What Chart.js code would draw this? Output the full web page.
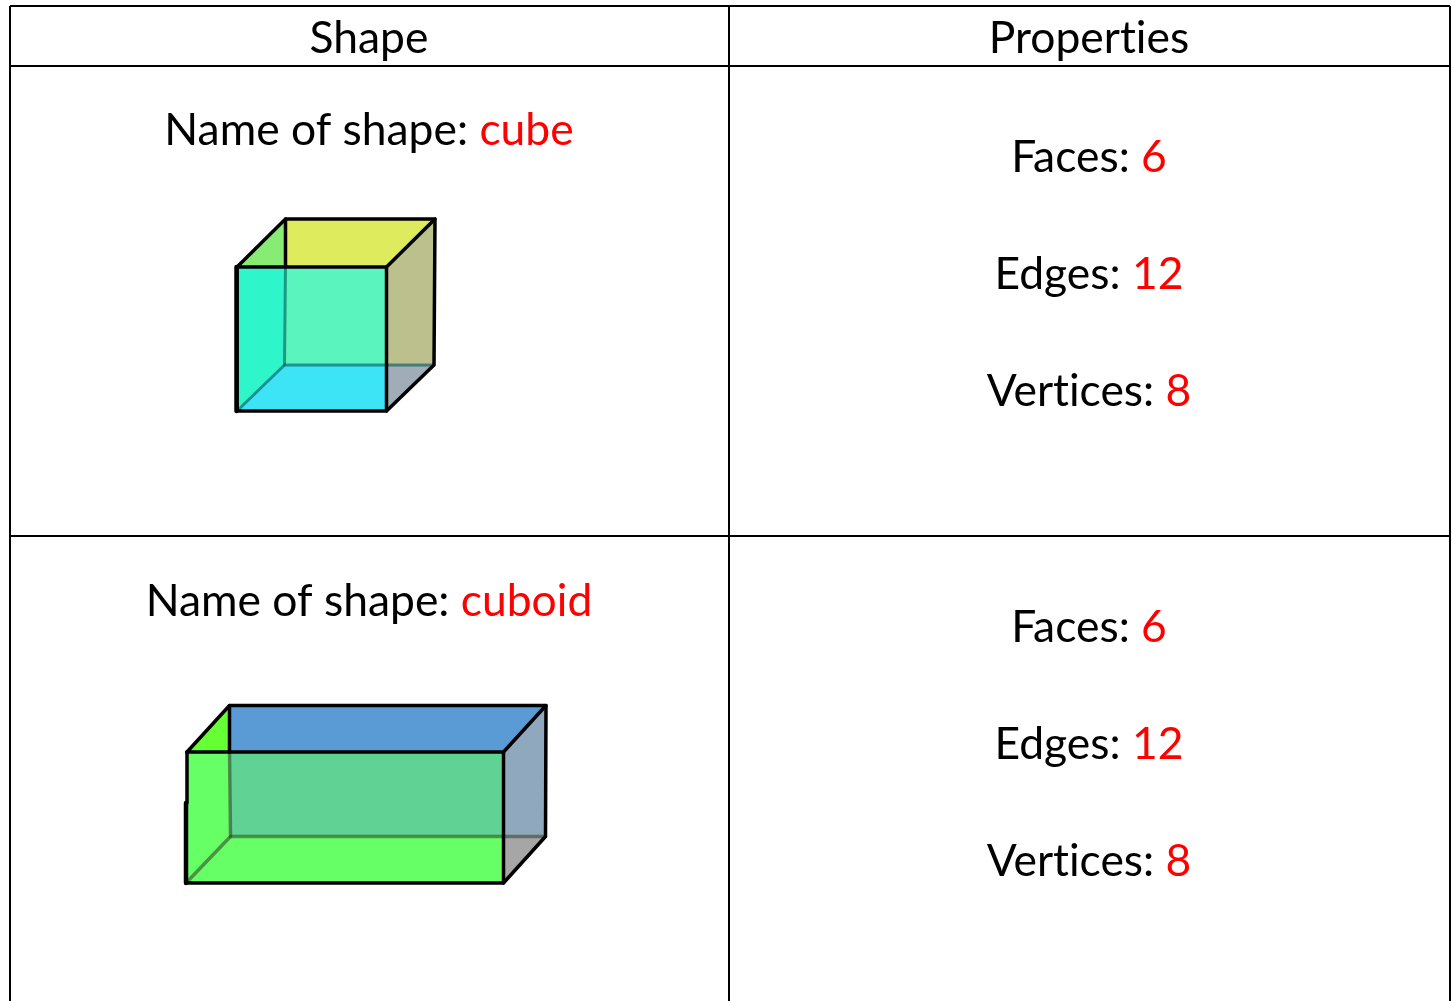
<!DOCTYPE html>
<html>
<head>
<meta charset="utf-8">
<title>Shape properties</title>
<script src="https://cdn.jsdelivr.net/npm/chart.js@4"></script>
<style>
  html, body { margin: 0; padding: 0; background: #fff; overflow: hidden; }
  canvas { display: block; }
</style>
</head>
<body>
<canvas id="myChart" width="1452" height="1001"></canvas>
<script>
// table text: [black part, red part]
const headers = [['Shape', ''], ['Properties', '']];
const shapeNames = [['Name of shape: ', 'cube'], ['Name of shape: ', 'cuboid']];
const faces = [['Faces: ', '6'], ['Faces: ', '6']];
const edges = [['Edges: ', '12'], ['Edges: ', '12']];
const vertices = [['Vertices: ', '8'], ['Vertices: ', '8']];

// table rules, in picture units
const tableV = [10, 729, 1450];
const tableH = [6, 66, 536];
const tableBottom = 1001;

// cube regions
const cubeTopLeft = [[237, 267], [285.5, 219], [285.5, 267]];
const cubeTop = [[285.5, 219], [435, 219], [386.5, 267], [285.5, 267]];
const cubeBand = [[237, 267], [285.5, 267], [284.5, 365], [237, 411]];
const cubeCentre = [[285.5, 267], [386.5, 267], [386.5, 365], [284.5, 365]];
const cubeFloor = [[284.5, 365], [386.5, 365], [386.5, 411], [237, 411]];
const cubeRight = [[386.5, 267], [435, 219], [434, 365], [386.5, 365]];
const cubeCorner = [[386.5, 365], [434, 365], [386.5, 411]];

// cuboid regions
const boxTopLeft = [[187, 752], [229.5, 705.5], [229.5, 752]];
const boxTop = [[229.5, 705.5], [546, 705.5], [503.5, 752], [229.5, 752]];
const boxBand = [[187, 752], [229.5, 752], [230.5, 836.5], [186, 883]];
const boxCentre = [[229.5, 752], [503.5, 752], [503.5, 836.5], [230.5, 836.5]];
const boxFloor = [[230.5, 836.5], [503.5, 836.5], [503.5, 883], [186, 883]];
const boxRight = [[503.5, 752], [546, 705.5], [545.5, 836.5], [503.5, 836.5]];
const boxCorner = [[503.5, 836.5], [545.5, 836.5], [503.5, 883]];

const regions = [
    [cubeTopLeft, '#88eb74'], [cubeTop, '#ddeb5c'], [cubeBand, '#2ff5cb'],
    [cubeCentre, '#5af5be'], [cubeFloor, '#3de4f5'], [cubeRight, '#bcc08c'],
    [cubeCorner, '#a0acb8'],
    [boxTopLeft, '#66ff33'], [boxTop, '#5b9bd5'], [boxBand, '#66ff66'],
    [boxCentre, '#60d394'], [boxFloor, '#66ff66'], [boxRight, '#8fa8be'],
    [boxCorner, '#a6a6a6']
];

const black = '#000000';
const cubeHidden = 'rgba(0,90,90,0.6)';
const boxHidden = 'rgba(50,60,40,0.55)';

// outlines: points, colour, width
const outlines = [
    [[[285.5, 267], [284.5, 365], [237, 411]], cubeHidden, 3],
    [[[284.5, 365], [434, 365]], cubeHidden, 3],
    [[[237, 267], [237, 411], [386.5, 411], [386.5, 267], [237, 267]], black, 3.5],
    [[[236.5, 267], [236.5, 411]], black, 4.5],
    [[[237, 267], [285.5, 219], [435, 219], [386.5, 267]], black, 3.5],
    [[[435, 219], [434, 365], [386.5, 411]], black, 3.5],
    [[[285.5, 219], [285.5, 267]], black, 3.5],

    [[[229.5, 752], [230.5, 836.5], [186, 883]], boxHidden, 3.5],
    [[[230.5, 836.5], [545.5, 836.5]], boxHidden, 3.5],
    [[[187, 752], [503.5, 752], [503.5, 883], [186, 883]], black, 3.5],
    [[[187, 752], [187, 803]], black, 3.5],
    [[[186, 803], [186, 883]], black, 4.5],
    [[[187, 752], [229.5, 705.5], [546, 705.5], [503.5, 752]], black, 3.5],
    [[[546, 705.5], [545.5, 836.5], [503.5, 883]], black, 3.5],
    [[[229.5, 705.5], [229.5, 752]], black, 3.5]
];

function toPoints(list) {
    return list.map(function (p) { return { x: p[0], y: p[1] }; });
}

const datasets = [];

regions.forEach(function (r) {
    datasets.push({
        data: toPoints(r[0]),
        faceColor: r[1],
        showLine: false,
        pointRadius: 0
    });
});

tableV.forEach(function (x) {
    datasets.push({
        data: [{ x: x, y: tableH[0] }, { x: x, y: tableBottom }],
        showLine: true, borderColor: black, borderWidth: 2, pointRadius: 0
    });
});
tableH.forEach(function (y) {
    datasets.push({
        data: [{ x: tableV[0], y: y }, { x: tableV[2], y: y }],
        showLine: true, borderColor: black, borderWidth: 2, pointRadius: 0
    });
});

// chart.js paints the last dataset first, so the black edges go in front
outlines.slice().reverse().forEach(function (o) {
    datasets.push({
        data: toPoints(o[0]),
        showLine: true,
        borderColor: o[1],
        borderWidth: o[2],
        borderCapStyle: 'round',
        borderJoinStyle: 'round',
        pointRadius: 0
    });
});

// fills the closed regions from the points the scales worked out
const regionFill = {
    id: 'regionFill',
    beforeDatasetsDraw(chart) {
        const ctx = chart.ctx;
        chart.data.datasets.forEach(function (ds, i) {
            if (!ds.faceColor) return;
            const pts = chart.getDatasetMeta(i).data;
            ctx.save();
            ctx.beginPath();
            pts.forEach(function (p, j) {
                if (j === 0) ctx.moveTo(p.x, p.y); else ctx.lineTo(p.x, p.y);
            });
            ctx.closePath();
            ctx.fillStyle = ds.faceColor;
            ctx.strokeStyle = ds.faceColor;
            ctx.lineWidth = 1;
            ctx.fill();
            ctx.stroke();
            ctx.restore();
        });
    }
};

const fontSize = 44.4;
const centres = [369, 1089];
const baselines = {
    headers: 53,
    names: [145, 616],
    faces: [172, 642],
    edges: [289, 759],
    vertices: [406, 876]
};

function drawRun(chart, run, cx, base) {
    const ctx = chart.ctx;
    const x = chart.scales.x.getPixelForValue(cx);
    const y = chart.scales.y.getPixelForValue(base);
    const w1 = ctx.measureText(run[0]).width;
    const w2 = ctx.measureText(run[1]).width;
    const left = x - (w1 + w2) / 2;
    ctx.fillStyle = '#000000';
    ctx.fillText(run[0], left, y);
    if (run[1]) {
        ctx.fillStyle = '#ff0000';
        ctx.fillText(run[1], left + w1, y);
    }
}

const tableText = {
    id: 'tableText',
    afterDatasetsDraw(chart) {
        const ctx = chart.ctx;
        ctx.save();
        ctx.font = fontSize + 'px Lato';
        ctx.textRendering = 'optimizeSpeed'; // no "ti" ligature
        ctx.textAlign = 'left';
        ctx.textBaseline = 'alphabetic';
        drawRun(chart, headers[0], centres[0], baselines.headers);
        drawRun(chart, headers[1], centres[1], baselines.headers);
        for (let i = 0; i < 2; i++) {
            drawRun(chart, shapeNames[i], centres[0], baselines.names[i]);
            drawRun(chart, faces[i], centres[1], baselines.faces[i]);
            drawRun(chart, edges[i], centres[1], baselines.edges[i]);
            drawRun(chart, vertices[i], centres[1], baselines.vertices[i]);
        }
        ctx.restore();
    }
};

const ctx = document.getElementById('myChart').getContext('2d');
const myChart = new Chart(ctx, {
    type: 'scatter',
    data: { datasets: datasets },
    plugins: [regionFill, tableText],
    options: {
        responsive: false,
        animation: false,
        layout: { padding: 0 },
        plugins: { legend: { display: false }, tooltip: { enabled: false } },
        scales: {
            x: { type: 'linear', display: false, min: 0, max: 1452 },
            y: { type: 'linear', display: false, min: 0, max: 1001, reverse: true }
        }
    }
});
</script>
</body>
</html>
